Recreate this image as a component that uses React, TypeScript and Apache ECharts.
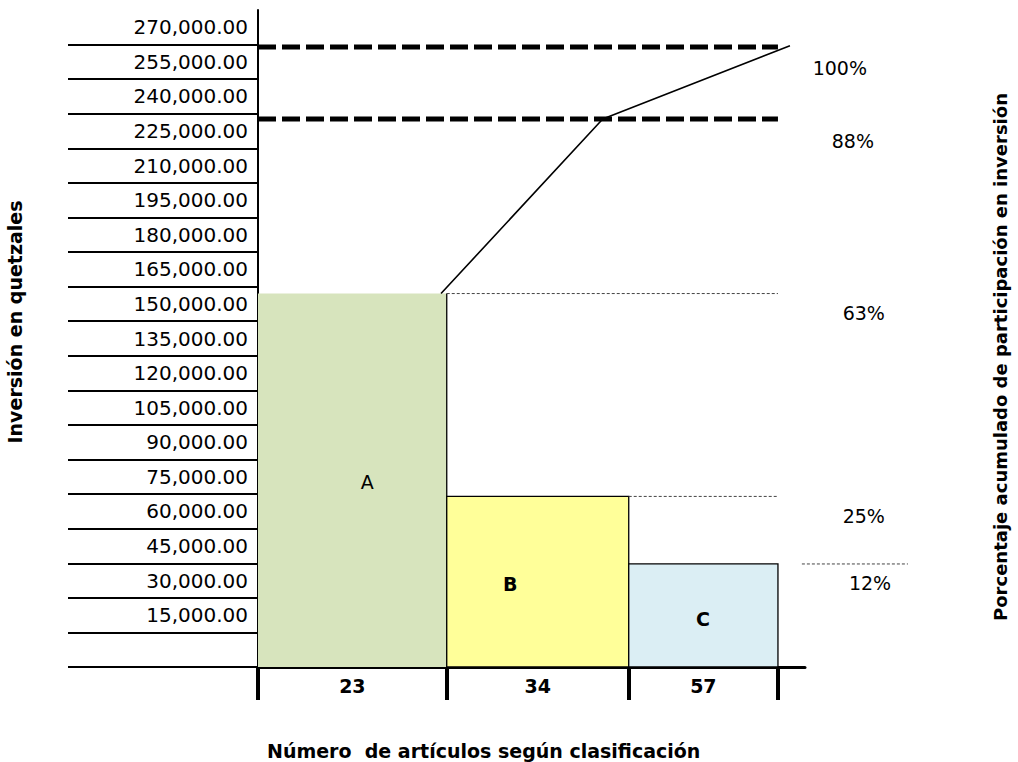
import React, { useEffect, useRef } from "react";
import * as echarts from "echarts";

// ---- data ----
const classes = ["A", "B", "C"];
const itemCounts = [23, 34, 57];
const investment = [162000, 74000, 44700];
const cumulativeX = [35.2, 66.3, 102.3];
const cumulativeY = [162000, 237700, 269500];
const cutoffLevels = [268900, 237700];
const percentLabels = ["100%", "88%", "63%", "25%", "12%"];
const yTickValues = [0, 15000, 30000, 45000, 60000, 75000, 90000, 105000, 120000, 135000, 150000, 165000, 180000, 195000, 210000, 225000, 240000, 255000, 270000];
const yLabelValues = [15000, 30000, 45000, 60000, 75000, 90000, 105000, 120000, 135000, 150000, 165000, 180000, 195000, 210000, 225000, 240000, 255000, 270000];

// ---- layout (not data) ----
const bandEdges = [0, 36.3, 71.3, 100];
const bandCenters = [18.15, 53.8, 85.65];
const pctPos = [[111.9, 259800], [114.4, 228100], [116.5, 153500], [116.5, 65500], [117.7, 36400]];
const barLabelPos = [[21, 80200], [48.5, 36000], [85.6, 20800]];
const barColors = ["#d7e4bd", "#ffff99", "#dbeef4"];
const FONT = "'DejaVu Sans', sans-serif";
const HALF = 7500;

const fmt = (v: number) =>
  v.toLocaleString("en-US", { minimumFractionDigits: 2, maximumFractionDigits: 2 });

export default function App() {
  const ref = useRef<HTMLDivElement>(null);
  useEffect(() => {
    if (!ref.current) return;
    const chart = echarts.init(ref.current, null, { renderer: "svg" });

    const barData = classes.map((c, i) => [bandEdges[i], bandEdges[i + 1], investment[i], i]);
    const thinGuides = [
      [bandEdges[1], 100, investment[0]],
      [bandEdges[2], 100, investment[1]],
      [104.6, 125, investment[2]],
    ];

    const option: any = {
      animation: false,
      backgroundColor: "#fff",
      grid: { left: 258, top: 10, width: 547, height: 657, outerBoundsMode: "none", containLabel: false },
      title: {
        text: "Número  de artículos según clasificación",
        left: 262,
        top: 736,
        textStyle: { fontFamily: FONT, fontWeight: "bold", fontSize: 19, color: "#000" },
      },
      xAxis: {
        type: "value",
        min: 0,
        max: 105.2,
        axisLine: { show: true, onZero: false, lineStyle: { color: "#000", width: 3 } },
        axisTick: { show: true, customValues: bandEdges, length: 33, lineStyle: { color: "#000", width: 4 } },
        axisLabel: {
          customValues: bandCenters,
          margin: 9,
          color: "#000",
          fontFamily: FONT,
          fontWeight: "bold",
          fontSize: 19,
          formatter: (v: number) => {
            const i = bandCenters.findIndex((c) => Math.abs(c - v) < 0.01);
            return i >= 0 ? String(itemCounts[i]) : "";
          },
        },
        splitLine: { show: false },
      },
      yAxis: {
        type: "value",
        min: 0,
        max: 285000,
        interval: 15000,
        axisLine: { show: true, onZero: false, lineStyle: { color: "#000", width: 2 } },
        axisTick: { show: true, customValues: yTickValues, length: 190, lineStyle: { color: "#000", width: 2 } },
        axisLabel: {
          customValues: yLabelValues.map((v) => v + HALF),
          formatter: (v: number) => fmt(v - HALF),
          margin: 10,
          color: "#000",
          fontFamily: FONT,
          fontSize: 20,
        },
        splitLine: { show: false },
      },
      graphic: [
        {
          type: "text",
          x: 15,
          y: 322,
          rotation: Math.PI / 2,
          style: {
            text: "Inversión en quetzales",
            textAlign: "center",
            textVerticalAlign: "middle",
            font: `bold 19px ${FONT}`,
            fill: "#000",
          },
        },
        {
          type: "text",
          x: 1000,
          y: 357,
          rotation: Math.PI / 2,
          style: {
            text: "Porcentaje acumulado de participación en inversión",
            textAlign: "center",
            textVerticalAlign: "middle",
            font: `bold 18px ${FONT}`,
            fill: "#000",
          },
        },
      ],
      series: [
        {
          type: "custom",
          name: "bars",
          clip: false,
          z: 2,
          encode: { x: [0, 1], y: 2 },
          data: barData,
          renderItem: (params: any, api: any) => {
            const x0 = api.value(0);
            const x1 = api.value(1);
            const v = api.value(2);
            const i = api.value(3);
            const p0 = api.coord([x0, v]);
            const p1 = api.coord([x1, 0]);
            const lp = api.coord(barLabelPos[i]);
            const children: any[] = [
              {
                type: "rect",
                shape: { x: p0[0], y: p0[1], width: p1[0] - p0[0], height: p1[1] - p0[1] },
                style: { fill: barColors[i], stroke: i === 0 ? null : "#000", lineWidth: 1.3 },
              },
            ];
            if (i === 0) {
              children.push({
                type: "line",
                shape: { x1: p1[0], y1: p0[1], x2: p1[0], y2: p1[1] },
                style: { stroke: "#000", lineWidth: 1.3 },
              });
            }
            children.push({
              type: "text",
              x: lp[0],
              y: lp[1],
              style: {
                text: classes[i],
                textAlign: "center",
                textVerticalAlign: "middle",
                font: `${i === 0 ? "normal" : "bold"} 19px ${FONT}`,
                fill: "#000",
              },
            });
            return { type: "group", children };
          },
        },
        ...cutoffLevels.map((lvl) => ({
          type: "line",
          clip: false,
          z: 3,
          symbol: "none",
          silent: true,
          data: [[0, lvl], [100, lvl]],
          lineStyle: { color: "#000", width: 5, type: [18, 6] },
        })),
        {
          type: "custom",
          clip: false,
          z: 3,
          silent: true,
          encode: { x: [0, 1], y: 2 },
          data: thinGuides,
          renderItem: (params: any, api: any) => {
            const a = api.coord([api.value(0), api.value(2)]);
            const b = api.coord([api.value(1), api.value(2)]);
            return {
              type: "line",
              shape: { x1: a[0], y1: a[1], x2: b[0], y2: b[1] },
              style: { stroke: "#444", lineWidth: 1, lineDash: [3, 2] },
            };
          },
        },
        {
          type: "line",
          clip: false,
          z: 4,
          symbol: "none",
          data: cumulativeX.map((x, i) => [x, cumulativeY[i]]),
          lineStyle: { color: "#000", width: 1.6 },
        },
        {
          type: "custom",
          clip: false,
          z: 4,
          encode: { x: 0, y: 1 },
          data: pctPos.map((p, i) => [p[0], p[1], i]),
          renderItem: (params: any, api: any) => {
            const p = api.coord([api.value(0), api.value(1)]);
            const i = api.value(2);
            return {
              type: "text",
              x: p[0],
              y: p[1],
              style: {
                text: percentLabels[i],
                textAlign: "center",
                textVerticalAlign: "middle",
                font: `19px ${FONT}`,
                fill: "#000",
              },
            };
          },
        },
      ],
    };
    chart.setOption(option);
    return () => chart.dispose();
  }, []);

  return (
    <div
      ref={ref}
      style={{ position: "fixed", left: 0, top: 0, width: 1018, height: 762, background: "#fff" }}
    />
  );
}
